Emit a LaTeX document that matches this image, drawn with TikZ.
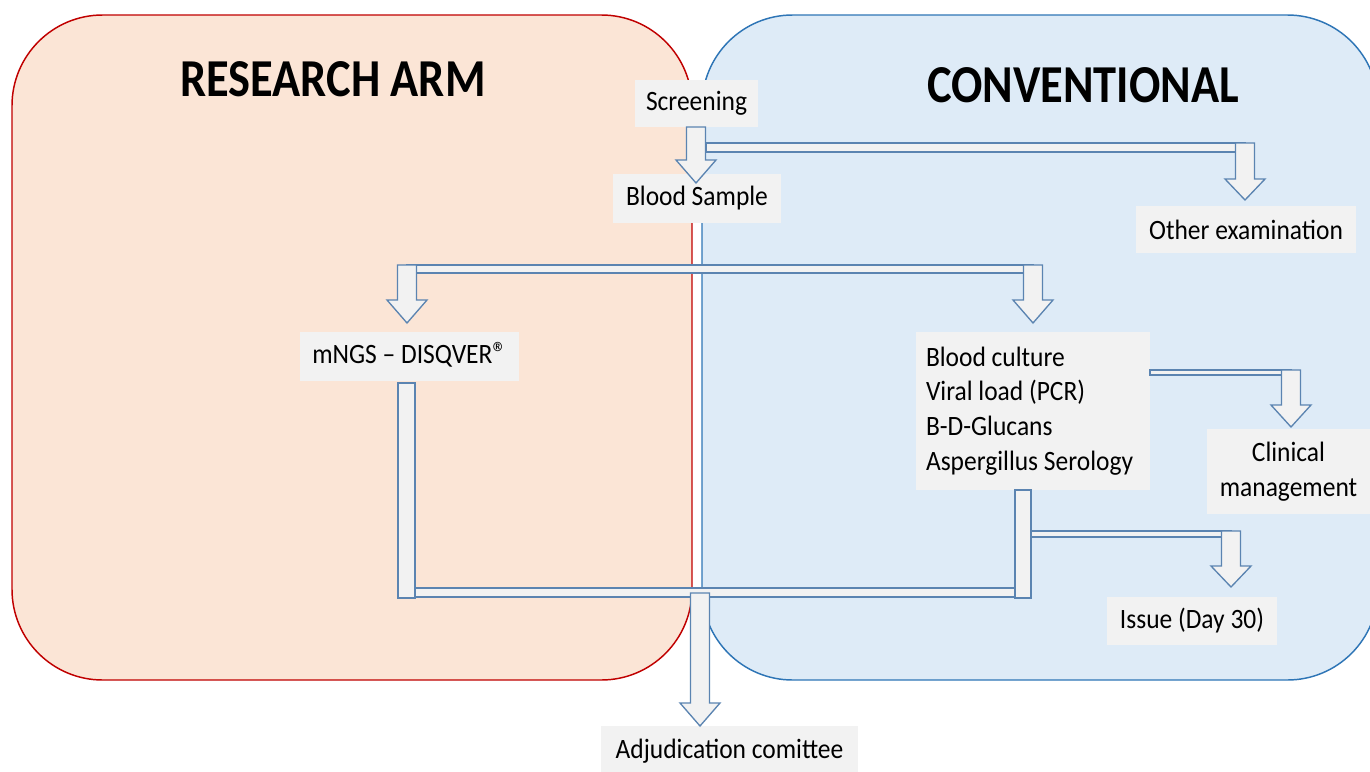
\documentclass[tikz,border=0pt]{standalone}
\usepackage{fontspec}
\setmainfont{Carlito}
\newfontfamily\boxfont[FakeStretch=0.91]{Carlito}
\newfontfamily\titlefont[FakeStretch=0.87]{Carlito}
\definecolor{redfill}{HTML}{FBE5D6}
\definecolor{redline}{HTML}{C00000}
\definecolor{bluefill}{HTML}{DEEBF7}
\definecolor{blueline}{HTML}{2E75B6}
\definecolor{boxgray}{HTML}{F2F2F2}
\definecolor{arrline}{HTML}{5B84B1}
\tikzset{
  armbox/.style={line width=1.1pt},
  textbox/.style={fill=boxgray, inner sep=0pt, align=center, font=\boxfont\fontsize{21}{26}\selectfont},
  arrsty/.style={fill=boxgray, draw=arrline, line width=1pt, line join=miter},
  title/.style={font=\titlefont\bfseries\fontsize{40}{44}\selectfont}
}
\newcommand\blockarr[4]{%
  \draw[arrsty] ({#1-9.5},#2) -- ({#1+9.5},#2) -- ({#1+9.5},#3) -- ({#1+20},#3) -- (#1,#4) -- ({#1-20},#3) -- ({#1-9.5},#3) -- cycle;}
\begin{document}
\begin{tikzpicture}[x=0.75pt,y=-0.75pt]
\useasboundingbox (0,0) rectangle (1370,771);
\begin{scope}
\clip (0,0) rectangle (1370,771);
% arms
\draw[armbox, fill=redfill, draw=redline, rounded corners=68pt] (12,15) rectangle (692,680);
\draw[armbox, fill=bluefill, draw=blueline, rounded corners=68pt] (702,15) rectangle (1378,680);
\node[title] (ra) at (333,79) {RESEARCH ARM};
\node[title] (cv) at (1083,85) {CONVENTIONAL};
% text boxes
\node[textbox, minimum width=123*0.75pt, minimum height=47*0.75pt] (scr) at (696.5,103.5) {Screening};
\node[textbox, minimum width=168*0.75pt, minimum height=49*0.75pt] (bs) at (697,198.5) {Blood Sample};
\node[textbox, minimum width=220*0.75pt, minimum height=47*0.75pt] (oe) at (1246,229.5) {Other examination};
\node[textbox, minimum width=219*0.75pt, minimum height=49*0.75pt, text height=14pt, text depth=4pt] (mn) at (409.5,356.5) {mNGS – DISQVER{\fontsize{23}{23}\selectfont\textregistered}};
\node[textbox, minimum width=234*0.75pt, minimum height=158*0.75pt, text width=214*0.75pt, align=flush left] (ct) at (1033,411) {Blood culture\\Viral load (PCR)\\B-D-Glucans\\Aspergillus Serology};
\node[textbox, minimum width=163*0.75pt, minimum height=85*0.75pt] (cm) at (1288.5,471.5) {Clinical\\management};
\node[textbox, minimum width=170*0.75pt, minimum height=48*0.75pt] (is) at (1192,621) {Issue (Day 30)};
\node[textbox, minimum width=257*0.75pt, minimum height=50*0.75pt] (ad) at (729.5,751) {Adjudication comittee};
% bars
\draw[arrsty] (706,143) rectangle (1245,152);
\draw[arrsty] (407,265) rectangle (1033,273);
\draw[arrsty] (1150,370) rectangle (1291,375);
\draw[arrsty] (398,383) rectangle (415,598);
\draw[arrsty] (415,588) rectangle (1015,597);
\draw[arrsty] (1015,490) rectangle (1031,598);
\draw[arrsty] (1031,531) rectangle (1231,537);
% arrows
\blockarr{696}{127}{160}{183}
\blockarr{1245}{143}{179}{200}
\blockarr{407}{265}{300}{323}
\blockarr{1033}{265}{300}{323}
\blockarr{1291}{370}{405}{427}
\blockarr{1231}{531}{566}{587}
\blockarr{700}{593}{703}{726}
\end{scope}
\end{tikzpicture}
\end{document}
